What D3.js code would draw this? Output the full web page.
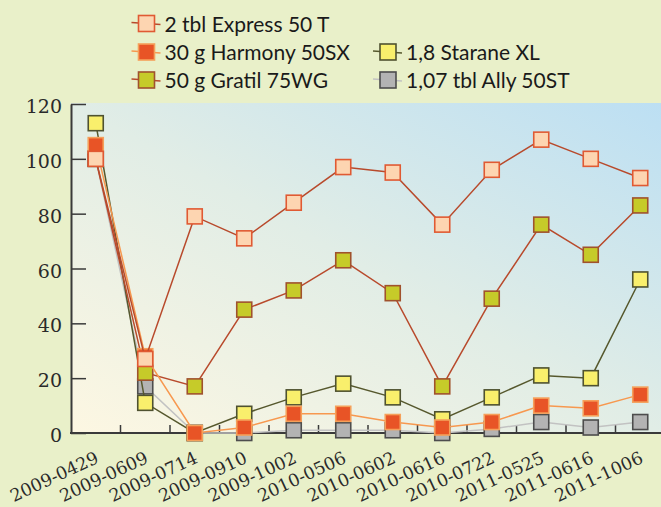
<!DOCTYPE html>
<html><head><meta charset="utf-8">
<script src="https://cdn.jsdelivr.net/npm/d3@7/dist/d3.min.js"></script>
<style>
html,body{margin:0;padding:0;background:#e9f0c9;}
svg{display:block;}
</style></head>
<body><svg id="c" width="661" height="507"></svg>
<script>
const categories = ["2009-0429","2009-0609","2009-0714","2009-0910","2009-1002","2010-0506","2010-0602","2010-0616","2010-0722","2011-0525","2011-0616","2011-1006"];
const seriesNames = ["2 tbl Express 50 T","30 g Harmony 50SX","50 g Gratil 75WG","1,8 Starane XL","1,07 tbl Ally 50ST"];
const express = [100,27,79,71,84,97,95,76,96,107,100,93];
const harmony = [105,28,0,2,7,7,4,2,4,10,9,14];
const gratil  = [100,22,17,45,52,63,51,17,49,76,65,83];
const starane = [113,11,0,7,13,18,13,5,13,21,20,56];
const ally    = [100,17,0,0,1,1,1,0,1.5,4,2,4];
const yTicks = [0,20,40,60,80,100,120];

const styles = [
  {line:"#b84a2c", fill:"#fdd5b1", stroke:"#e05a33"},
  {line:"#f7984f", fill:"#e85426", stroke:"#f5a05a"},
  {line:"#b84a2c", fill:"#c6cb29", stroke:"#a0522d"},
  {line:"#56582d", fill:"#f9ef6c", stroke:"#4f5230"},
  {line:"#c2c2c2", fill:"#b3b3b3", stroke:"#4d4d4d"}
];
const values = [express, harmony, gratil, starane, ally];

const svg = d3.select("#c");
const W = 661, H = 507;
const pLeft = 71, pRight = 665, pTop = 104, pBottom = 433;

const x = d3.scaleBand().domain(categories).range([pLeft, pRight]).padding(0);
const y = d3.scaleLinear().domain([0,120]).range([pBottom, pTop]);

// background
const defs = svg.append("defs");
const g = defs.append("linearGradient").attr("id","bg").attr("x1",0).attr("y1",1).attr("x2",1).attr("y2",0);
g.append("stop").attr("offset",0).attr("stop-color","#fdf7e2");
g.append("stop").attr("offset",0.5).attr("stop-color","#e1ede6");
g.append("stop").attr("offset",1).attr("stop-color","#bcdff3");
svg.append("rect").attr("x",pLeft).attr("y",pTop-1).attr("width",W-pLeft).attr("height",pBottom-pTop+1).attr("fill","url(#bg)");

// y axis
const yAxis = svg.append("g").attr("transform",`translate(${pLeft},0)`)
  .call(d3.axisLeft(y).tickValues(yTicks).tickSize(-15).tickSizeOuter(0).tickPadding(9));
yAxis.select(".domain").attr("stroke","#3a3a3a").attr("stroke-width",2);
yAxis.selectAll(".tick line").attr("stroke","#3a3a3a").attr("stroke-width",1.5);
yAxis.selectAll(".tick text").attr("font-family","DejaVu Serif").attr("font-size",19).attr("fill","#2a2a2a").attr("dy","0.45em");

// x axis
const xAxis = svg.append("g").attr("transform",`translate(0,${pBottom})`)
  .call(d3.axisBottom(x).tickSize(0).tickSizeOuter(0));
xAxis.select(".domain").remove();
xAxis.selectAll(".tick text")
  .attr("font-family","DejaVu Serif").attr("font-size",17.5).attr("fill","#2a2a2a")
  .attr("text-anchor","end")
  .attr("transform","translate(4,29) rotate(-25)")
  .attr("dy",0).attr("y",0).attr("x",0);
svg.append("g").selectAll("line").data(categories.slice(1)).join("line")
  .attr("x1",d=>x(d)).attr("x2",d=>x(d)).attr("y1",pBottom).attr("y2",pBottom-8)
  .attr("stroke","#3a3a3a").attr("stroke-width",1.5);
svg.append("line").attr("x1",pLeft-1).attr("x2",W).attr("y1",pBottom).attr("y2",pBottom)
  .attr("stroke","#3a3a3a").attr("stroke-width",2);

// series, drawn bottom to top
const cx = d => x(d) + x.bandwidth()/2;
const order = [4,3,2,1,0];
const line = d3.line().x(d=>cx(d.c)).y(d=>y(d.v));
const ms = 15;
order.forEach(i => {
  const pts = categories.map((c,k)=>({c, v:values[i][k]}));
  const s = styles[i];
  const gg = svg.append("g");
  gg.append("path").datum(pts).attr("d",line).attr("fill","none").attr("stroke",s.line).attr("stroke-width",1.5);
  gg.selectAll("rect").data(pts).join("rect")
    .attr("x",d=>cx(d.c)-ms/2).attr("y",d=>y(d.v)-ms/2).attr("width",ms).attr("height",ms)
    .attr("fill",s.fill).attr("stroke",s.stroke).attr("stroke-width",1.6);
});

// legend
const legPos = [[146.5,23.5],[146.5,52],[146.5,80],[388,52],[388,80]];
const lg = svg.append("g");
seriesNames.forEach((n,i)=>{
  const [lx,ly] = legPos[i];
  const s = styles[i];
  lg.append("line").attr("x1",lx-15).attr("x2",lx+14).attr("y1",ly-1).attr("y2",ly+1).attr("stroke",s.line).attr("stroke-width",1.3);
  lg.append("rect").attr("x",lx-8).attr("y",ly-8).attr("width",16).attr("height",16)
    .attr("fill",s.fill).attr("stroke",s.stroke).attr("stroke-width",1.6);
  lg.append("text").attr("x",lx+18).attr("y",ly+8).text(n)
    .attr("font-family","Lato").attr("font-size",21).attr("fill","#1a1a1a");
});
</script></body></html>
